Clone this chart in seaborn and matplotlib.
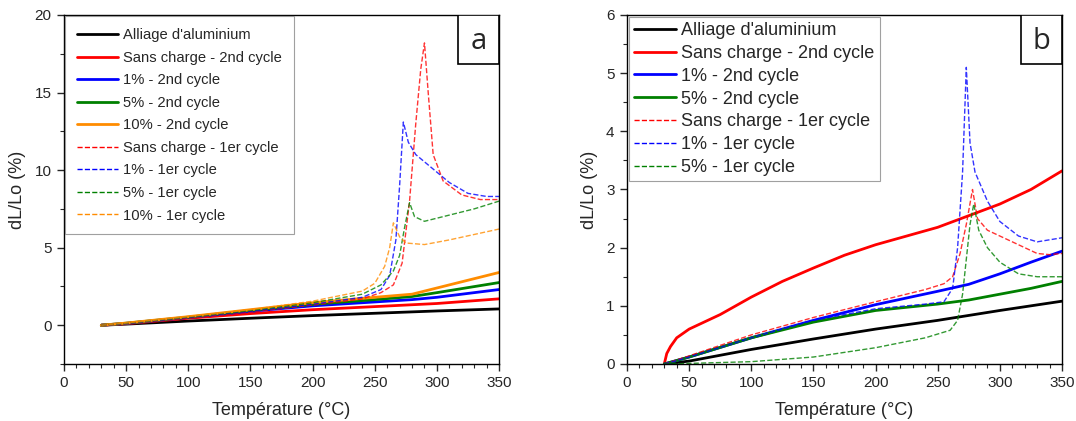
import matplotlib
matplotlib.use("Agg")
import matplotlib.pyplot as plt
import seaborn as sns
import numpy as np
import pandas as pd
from matplotlib.patches import Rectangle
from matplotlib.ticker import MultipleLocator

sns.set_theme(style="ticks")
plt.rcParams['font.family'] = ['Liberation Sans', 'DejaVu Sans']

# ---- panel a data (temperature in degC, dL/Lo in %) ----
a_alu_T = [30, 50, 100, 150, 200, 250, 300, 350]
a_alu_v = [0, 0.07, 0.27, 0.45, 0.62, 0.77, 0.92, 1.05]
a_sc2_T = [30, 50, 100, 150, 200, 250, 300, 350]
a_sc2_v = [0, 0.1, 0.45, 0.75, 1.0, 1.2, 1.4, 1.7]
a_p1_2_T = [30, 50, 100, 150, 200, 250, 280, 300, 350]
a_p1_2_v = [0, 0.12, 0.5, 0.9, 1.25, 1.5, 1.65, 1.8, 2.3]
a_p5_2_T = [30, 50, 100, 150, 200, 250, 280, 300, 350]
a_p5_2_v = [0, 0.13, 0.52, 0.95, 1.35, 1.65, 1.85, 2.1, 2.75]
a_p10_2_T = [30, 50, 100, 150, 200, 250, 280, 300, 350]
a_p10_2_v = [0, 0.14, 0.55, 1.0, 1.45, 1.8, 2.0, 2.4, 3.4]

a_sc1_T = [30, 50, 100, 150, 200, 240, 255, 265, 272, 278, 283, 287, 290, 293, 297, 305, 320, 335, 350]
a_sc1_v = [0, 0.1, 0.45, 0.85, 1.3, 1.7, 2.1, 2.6, 4.0, 8.0, 13.0, 16.5, 18.2, 15.0, 11.0, 9.3, 8.4, 8.1, 8.1]
a_p1_1_T = [30, 50, 100, 150, 200, 240, 255, 262, 267, 270, 273, 277, 283, 295, 310, 325, 340, 350]
a_p1_1_v = [0, 0.1, 0.5, 0.9, 1.35, 1.8, 2.3, 3.2, 5.5, 9.0, 13.1, 11.8, 11.0, 10.2, 9.2, 8.5, 8.3, 8.3]
a_p5_1_T = [30, 50, 100, 150, 200, 240, 255, 265, 270, 274, 278, 282, 290, 310, 330, 350]
a_p5_1_v = [0, 0.12, 0.52, 0.95, 1.45, 2.0, 2.6, 3.5, 4.5, 6.3, 7.9, 7.0, 6.7, 7.1, 7.5, 8.0]
a_p10_1_T = [30, 50, 100, 150, 200, 240, 250, 258, 262, 265, 270, 275, 290, 310, 330, 350]
a_p10_1_v = [0, 0.14, 0.55, 1.0, 1.55, 2.2, 2.7, 3.8, 5.0, 6.6, 5.7, 5.3, 5.2, 5.5, 5.85, 6.2]

# ---- panel b data ----
b_alu_T = [30, 50, 100, 150, 200, 250, 300, 350]
b_alu_v = [0, 0.05, 0.25, 0.43, 0.6, 0.75, 0.92, 1.08]
b_sc2_T = [30, 32, 35, 40, 50, 75, 100, 125, 150, 175, 200, 225, 250, 275, 300, 325, 350]
b_sc2_v = [0, 0.18, 0.3, 0.45, 0.6, 0.85, 1.15, 1.42, 1.65, 1.87, 2.05, 2.2, 2.35, 2.55, 2.75, 3.0, 3.32]
b_p1_2_T = [30, 50, 100, 150, 200, 250, 275, 300, 325, 350]
b_p1_2_v = [0, 0.12, 0.45, 0.75, 1.02, 1.25, 1.37, 1.55, 1.75, 1.94]
b_p5_2_T = [30, 50, 100, 150, 200, 250, 275, 300, 325, 350]
b_p5_2_v = [0, 0.12, 0.45, 0.72, 0.92, 1.03, 1.1, 1.2, 1.3, 1.42]

b_sc1_T = [30, 50, 100, 150, 200, 240, 255, 262, 268, 273, 278, 282, 290, 305, 320, 330, 340, 350]
b_sc1_v = [0, 0.14, 0.5, 0.8, 1.07, 1.28, 1.38, 1.5, 1.9, 2.4, 3.0, 2.5, 2.3, 2.15, 2.0, 1.9, 1.88, 1.9]
b_p1_1_T = [30, 50, 100, 150, 200, 240, 255, 262, 266, 270, 273, 276, 280, 290, 300, 315, 330, 350]
b_p1_1_v = [0, 0.12, 0.45, 0.75, 0.95, 1.03, 1.07, 1.3, 2.0, 3.3, 5.1, 3.8, 3.3, 2.8, 2.45, 2.2, 2.1, 2.17]
b_p5_1_T = [30, 50, 100, 150, 200, 240, 260, 266, 270, 273, 276, 279, 283, 290, 300, 315, 330, 350]
b_p5_1_v = [0, 0.01, 0.04, 0.12, 0.28, 0.45, 0.58, 0.75, 1.2, 1.8, 2.4, 2.75, 2.3, 2.0, 1.75, 1.55, 1.5, 1.5]

RED, BLUE, GREEN, ORANGE = "#ff0000", "#0000ff", "#008000", "#ff8c00"

series_a = [
    (a_alu_T, a_alu_v, "black", "-", "Alliage d'aluminium"),
    (a_sc2_T, a_sc2_v, RED, "-", "Sans charge - 2nd cycle"),
    (a_p1_2_T, a_p1_2_v, BLUE, "-", "1% - 2nd cycle"),
    (a_p5_2_T, a_p5_2_v, GREEN, "-", "5% - 2nd cycle"),
    (a_p10_2_T, a_p10_2_v, ORANGE, "-", "10% - 2nd cycle"),
    (a_sc1_T, a_sc1_v, RED, "--", "Sans charge - 1er cycle"),
    (a_p1_1_T, a_p1_1_v, BLUE, "--", "1% - 1er cycle"),
    (a_p5_1_T, a_p5_1_v, GREEN, "--", "5% - 1er cycle"),
    (a_p10_1_T, a_p10_1_v, ORANGE, "--", "10% - 1er cycle"),
]
series_b = [
    (b_alu_T, b_alu_v, "black", "-", "Alliage d'aluminium"),
    (b_sc2_T, b_sc2_v, RED, "-", "Sans charge - 2nd cycle"),
    (b_p1_2_T, b_p1_2_v, BLUE, "-", "1% - 2nd cycle"),
    (b_p5_2_T, b_p5_2_v, GREEN, "-", "5% - 2nd cycle"),
    (b_sc1_T, b_sc1_v, RED, "--", "Sans charge - 1er cycle"),
    (b_p1_1_T, b_p1_1_v, BLUE, "--", "1% - 1er cycle"),
    (b_p5_1_T, b_p5_1_v, GREEN, "--", "5% - 1er cycle"),
]

fig = plt.figure(figsize=(10.76, 4.21), dpi=100)
ax_a = fig.add_axes([0.0595, 0.1354, 0.4043, 0.829])
ax_b = fig.add_axes([0.5827, 0.1354, 0.4043, 0.829])


def draw(ax, series, ylim, ymajor, yminor, letter, legend_fs, lspace, hlen, bpad):
    for T, v, c, ls, lab in series:
        lw = 2.0 if ls == "-" else 1.0
        alpha = 1.0 if ls == "-" else 0.8
        sns.lineplot(x=T, y=v, ax=ax, color=c, linestyle=ls, linewidth=lw,
                     alpha=alpha, label=lab, sort=False)
    ax.set_xlim(0, 350)
    ax.set_ylim(*ylim)
    ax.xaxis.set_major_locator(MultipleLocator(50))
    ax.xaxis.set_minor_locator(MultipleLocator(10))
    ax.yaxis.set_major_locator(MultipleLocator(ymajor))
    ax.yaxis.set_minor_locator(MultipleLocator(yminor))
    ax.tick_params(which="major", length=5, width=1, labelsize=11, direction="out", pad=4)
    ax.tick_params(which="minor", length=3, width=0.8, direction="out")
    for s in ax.spines.values():
        s.set_color("black")
        s.set_linewidth(1.0)
    ax.set_xlabel("Température (°C)", fontsize=13, labelpad=8)
    ax.set_ylabel("dL/Lo (%)", fontsize=13, labelpad=6)
    leg = ax.legend(loc="upper left", fontsize=legend_fs, frameon=True,
                    fancybox=False, borderaxespad=0.1, handlelength=hlen,
                    handletextpad=0.3, labelspacing=lspace, borderpad=bpad)
    leg.get_frame().set_edgecolor("#888888")
    leg.get_frame().set_linewidth(0.8)
    for line in leg.get_lines():
        line.set_alpha(1.0)
    ax.add_patch(Rectangle((0.906, 0.86), 0.094, 0.14, transform=ax.transAxes,
                           facecolor="white", edgecolor="black", lw=1.2, zorder=5))
    ax.text(0.953, 0.925, letter, transform=ax.transAxes, ha="center", va="center",
            fontsize=21, zorder=6, family=["Open Sans", "DejaVu Sans"])


draw(ax_a, series_a, (-2.5, 20), 5, 2.5, "a", 10.6, 0.58, 2.8, 0.8)
draw(ax_b, series_b, (0, 6), 1, 0.5, "b", 13, 0.32, 2.3, 0.3)

fig.savefig("out.png", dpi=100)
